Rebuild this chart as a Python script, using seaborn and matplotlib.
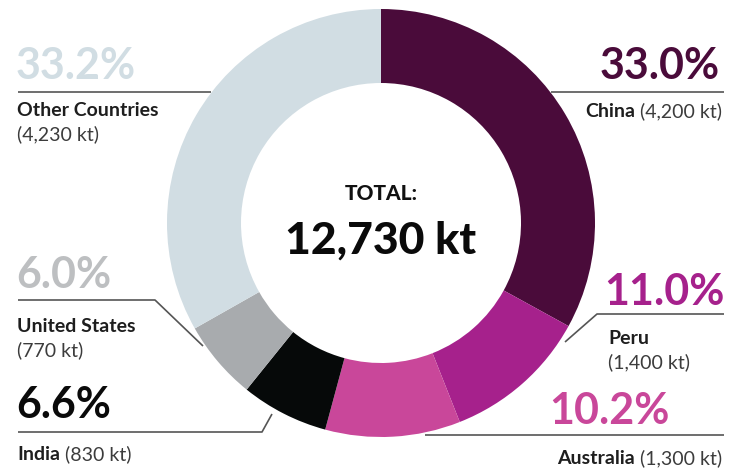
import matplotlib
matplotlib.use("Agg")
import matplotlib.pyplot as plt
import seaborn as sns

# data
countries = ["China", "Peru", "Australia", "India", "United States", "Other Countries"]
shares = [33.0, 11.0, 10.2, 6.6, 6.0, 33.2]
kilotonnes = ["4,200", "1,400", "1,300", "830", "770", "4,230"]
total_label = "12,730 kt"
colors = ["#4a0b3a", "#a6218c", "#c9479a", "#060909", "#a8abae", "#d1dde3"]
pct_colors = ["#4a0b3a", "#a6218c", "#c9479a", "#0a0a0a", "#bdbfc1", "#d1dde3"]

sns.set_theme(style="white")
plt.rcParams["font.family"] = ["Lato", "DejaVu Sans"]

W, H = 735, 469
fig = plt.figure(figsize=(W / 100, H / 100), dpi=100)
ax = fig.add_axes([0, 0, 1, 1])

def Y(y):
    # pixel row (from top) -> data y
    return H - y

cx, cy, R = 381, 223, 214
ax.pie(shares, colors=sns.color_palette(colors), startangle=90, counterclock=False,
       center=(cx, Y(cy)), radius=R,
       wedgeprops=dict(width=74, linewidth=0))
ax.set_xlim(0, W)
ax.set_ylim(0, H)
ax.set_aspect("auto")
ax.axis("off")

# centre text
ax.text(cx, Y(193), "TOTAL:", ha="center", va="center", fontsize=15,
        fontweight="black", color="#111111")
ax.text(cx, Y(241), total_label, ha="center", va="center", fontsize=32,
        fontweight="black", color="#0a0a0a")

line_kw = dict(color="#555555", lw=1.2, solid_capstyle="butt")

# leader lines (pixel positions from the top)
leaders = {
    "China": [(551, 92), (724, 92)],
    "Peru": [(565, 342), (597, 314), (724, 314)],
    "Australia": [(425, 435), (724, 435)],
    "India": [(272, 414), (262, 432), (18, 432)],
    "United States": [(203, 346), (155, 300), (18, 300)],
    "Other Countries": [(211, 92), (18, 92)],
}
for name, pts in leaders.items():
    ax.plot([p[0] for p in pts], [Y(p[1]) for p in pts], **line_kw)

renderer = fig.canvas.get_renderer()
PCT = 31
LBL = 14

def pct_text(i, x, y, ha):
    ax.text(x, Y(y), f"{shares[i]:.1f}%", ha=ha, va="center", fontsize=PCT,
            fontweight="bold", color=pct_colors[i])

def two_part(x, y, bold, reg, ha):
    if ha == "left":
        t1 = ax.text(x, Y(y), bold, ha="left", va="center", fontsize=LBL,
                     fontweight="bold", color="#1e1e1e")
        bb = t1.get_window_extent(renderer)
        ax.text(bb.x1 + 5, Y(y), reg, ha="left", va="center", fontsize=LBL,
                fontweight="normal", color="#3c3c3c")
    else:
        t2 = ax.text(x, Y(y), reg, ha="right", va="center", fontsize=LBL,
                     fontweight="normal", color="#3c3c3c")
        bb = t2.get_window_extent(renderer)
        ax.text(bb.x0 - 5, Y(y), bold, ha="right", va="center", fontsize=LBL,
                fontweight="bold", color="#1e1e1e")

def stacked(x, y, bold, reg):
    ax.text(x, Y(y), bold, ha="left", va="center", fontsize=LBL,
            fontweight="bold", color="#1e1e1e")
    ax.text(x, Y(y + 24), reg, ha="left", va="center", fontsize=LBL,
            fontweight="normal", color="#3c3c3c")

# China
pct_text(0, 720, 66, "right")
two_part(722, 111, countries[0], f"({kilotonnes[0]} kt)", "right")
# Peru
pct_text(1, 725, 292, "right")
stacked(608, 338, countries[1], f"({kilotonnes[1]} kt)")
# Australia
pct_text(2, 549, 411, "left")
two_part(722, 458, countries[2], f"({kilotonnes[2]} kt)", "right")
# India
pct_text(3, 16, 405, "left")
two_part(17, 454, countries[3], f"({kilotonnes[3]} kt)", "left")
# United States
pct_text(4, 16, 275, "left")
stacked(17, 326, countries[4], f"({kilotonnes[4]} kt)")
# Other
pct_text(5, 16, 66, "left")
stacked(17, 110, countries[5], f"({kilotonnes[5]} kt)")

fig.savefig("out.png", dpi=100, facecolor="white")
